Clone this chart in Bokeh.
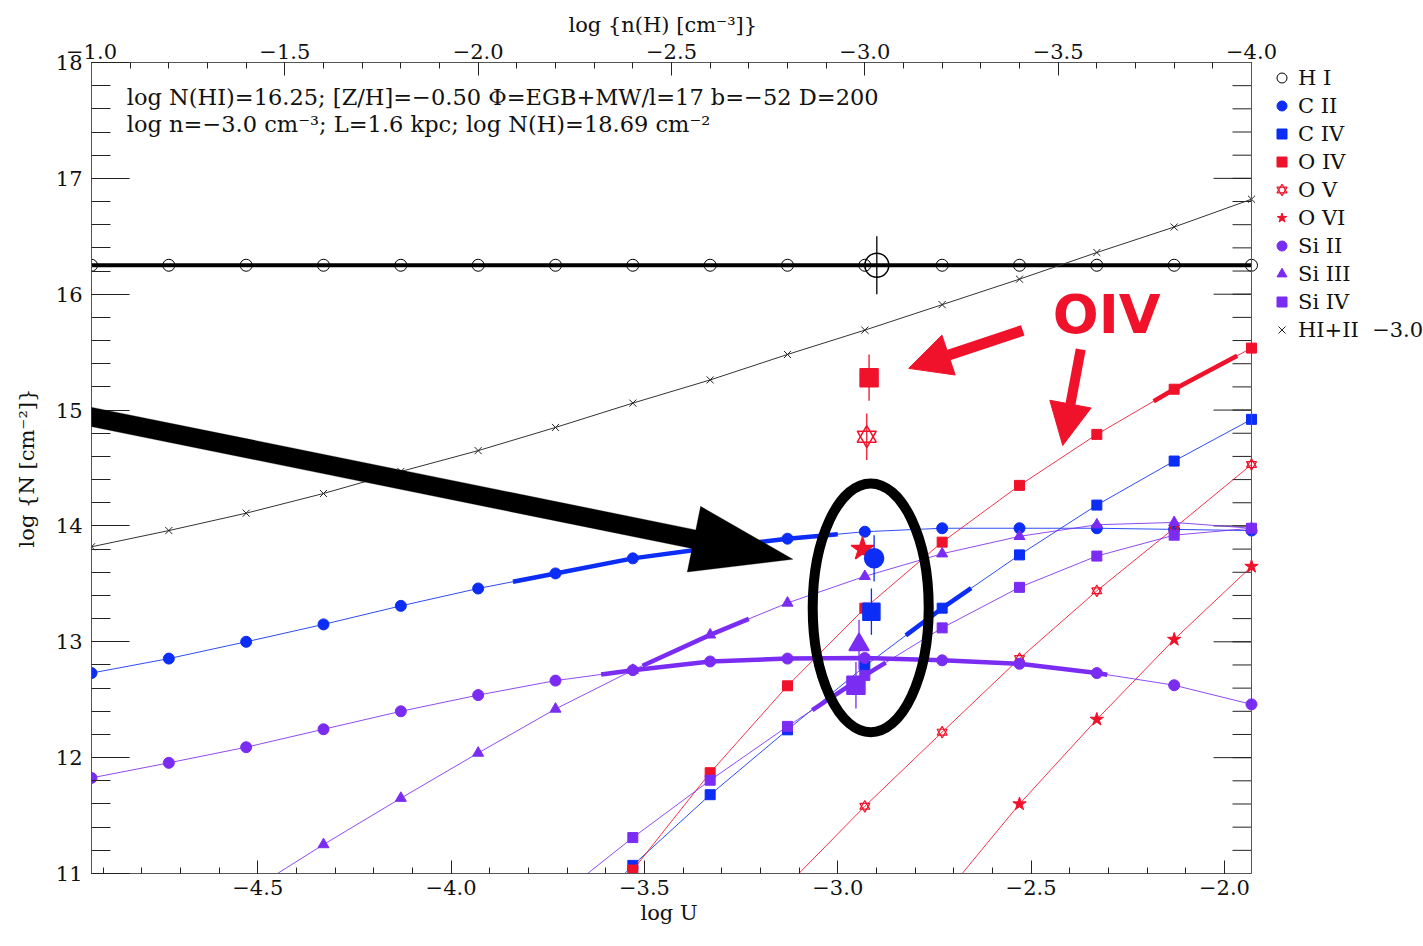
import math
import numpy as np
from bokeh.plotting import figure
from bokeh.models import (Range1d, LinearAxis, FixedTicker, CustomJSTickFormatter, Legend,
                          LegendItem, Label, Arrow, NormalHead, PolyAnnotation, Span, Title)
from bokeh.embed import file_html
from bokeh.resources import INLINE

# ---------------- data ----------------
LOG_U = [-4.93, -4.73, -4.53, -4.33, -4.13, -3.93, -3.73, -3.53,
         -3.33, -3.13, -2.93, -2.73, -2.53, -2.33, -2.13, -1.93]
N_HI = [16.25, 16.25, 16.25, 16.25, 16.25, 16.25, 16.25, 16.25,
        16.25, 16.25, 16.25, 16.25, 16.25, 16.25, 16.25, 16.25]
N_HI_II = [13.82, 13.96, 14.11, 14.28, 14.47, 14.65, 14.85, 15.06,
           15.26, 15.48, 15.69, 15.91, 16.13, 16.36, 16.58, 16.82]
N_CII = [12.73, 12.855, 13.00, 13.15, 13.31, 13.46, 13.59, 13.72,
         13.81, 13.89, 13.95, 13.98, 13.98, 13.98, 13.97, 13.96]
N_CIV = [None, None, None, None, None, None, 10.40, 11.07,
         11.68, 12.24, 12.79, 13.29, 13.75, 14.18, 14.56, 14.92]
N_OIV = [None, None, None, None, None, None, 10.20, 11.03,
         11.87, 12.62, 13.29, 13.86, 14.35, 14.79, 15.18, 15.535]
N_OV = [None, None, None, None, None, None, None, None,
        None, 10.90, 11.58, 12.22, 12.855, 13.44, 13.98, 14.53]
N_OVI = [None, None, None, None, None, None, None, None,
         None, None, None, 10.79, 11.60, 12.33, 13.02, 13.65]
N_SIII = [11.825, 11.955, 12.09, 12.245, 12.40, 12.54, 12.665, 12.755,
          12.83, 12.855, 12.86, 12.84, 12.81, 12.73, 12.625, 12.46]
N_SIIII = [None, None, 10.83, 11.25, 11.65, 12.04, 12.42, 12.755,
           13.06, 13.335, 13.565, 13.76, 13.91, 14.01, 14.03, 13.98]
N_SIIV = [None, None, None, None, None, None, 10.78, 11.31,
          11.805, 12.27, 12.71, 13.12, 13.47, 13.74, 13.92, 13.98]

# log U ranges where the model is drawn thick
THICK_CII = [-3.84, -3.00]
THICK_CIV = [-2.824, -2.655]
THICK_OIV = [-2.183, -1.967]
THICK_SIII = [-3.612, -2.303]
THICK_SIIII = [-3.505, -3.23]
THICK_SIIV = [-3.066, -2.876]

# observed columns
OBS_ION = ["H I", "O IV", "O V", "O VI", "C II", "C IV", "Si III", "Si IV"]
OBS_U = [-2.899, -2.919, -2.925, -2.936, -2.906, -2.913, -2.945, -2.953]
OBS_N = [16.25, 15.28, 14.77, 13.80, 13.72, 13.26, 12.975, 12.625]
OBS_ERR = [0.25, 0.20, 0.20, 0.0, 0.20, 0.20, 0.215, 0.20]

X_MAJOR = [-4.5, -4.0, -3.5, -3.0, -2.5, -2.0]
TOP_MAJOR = [-1.0, -1.5, -2.0, -2.5, -3.0, -3.5, -4.0]
Y_MAJOR = [11, 12, 13, 14, 15, 16, 17, 18]

INFO_1 = "log N(HI)=16.25; [Z/H]=\u22120.50 \u03a6=EGB+MW/l=17 b=\u221252 D=200"
INFO_2 = "log n=\u22123.0 cm\u207b\u00b3; L=1.6 kpc; log N(H)=18.69 cm\u207b\u00b2"
X_LABEL = "log U"
TOP_LABEL = "log {n(H) [cm\u207b\u00b3]}"
Y_LABEL = "log {N [cm\u207b\u00b2]}"

# ---------------- styling / geometry ----------------
BLUE = "#0b2df5"
RED = "#f0122b"
PURPLE = "#7b2cf2"
FONT = "DejaVu Serif"

X0, XR = -4.93, -1.93          # plotted log U box
Y0, Y1 = 11.0, 18.0
N0, NR = -1.0, -4.0            # top axis log n(H) box
BOX_W, BOX_H = 1160, 811       # pixel size of the axes box
LEFT, TOP, BOTTOM = 91, 62, 73
W, H = 1423, 946
FRAME_W = W - LEFT             # frame extends to the right edge (room for the key)
KX = BOX_W / (XR - X0)
KY = BOX_H / (Y1 - Y0)
X1 = X0 + FRAME_W / KX
N1 = N0 - FRAME_W / KX


def arr(v):
    return np.array([np.nan if a is None else a for a in v], dtype=float)


def thick(vals, rng):
    x = np.array(LOG_U)
    y = arr(vals)
    m = ~np.isnan(y)
    lo, hi = rng
    xs = [lo] + [a for a in x[m] if lo < a < hi] + [hi]
    ys = np.interp(xs, x[m], y[m])
    return xs, list(ys)


p = figure(width=W, height=H, x_range=Range1d(X0, X1), y_range=Range1d(Y0, Y1),
           output_backend="svg", toolbar_location=None,
           min_border_left=LEFT, min_border_right=0, min_border_top=TOP, min_border_bottom=BOTTOM)
p.title.visible = False
p.extra_x_ranges = {"nh": Range1d(N0, N1)}
p.xgrid.visible = False
p.ygrid.visible = False
p.outline_line_color = None
p.background_fill_color = "white"
p.border_fill_color = "white"

x_minor = [round(v, 1) for v in np.arange(-4.9, -1.94, 0.1)]
top_minor = [round(v, 1) for v in np.arange(-1.0, -4.05, -0.1)]
y_minor = [round(v, 1) for v in np.arange(11.0, 18.01, 0.2)]

fmt1 = CustomJSTickFormatter(code="return tick.toFixed(1).replace('-', '\u2212');")
fmt0 = CustomJSTickFormatter(code="return tick.toFixed(0);")

AX_COLOR = "#555555"
TK_COLOR = "#222222"
TXT = "#111111"


def style_axis(ax, major_in, minor_in):
    ax.axis_line_color = AX_COLOR
    ax.major_tick_line_color = TK_COLOR
    ax.minor_tick_line_color = TK_COLOR
    ax.major_tick_in = major_in
    ax.major_tick_out = 0
    ax.minor_tick_in = minor_in
    ax.minor_tick_out = 0
    ax.major_label_text_font = FONT
    ax.axis_label_text_font = FONT
    ax.axis_label_text_font_style = "normal"
    ax.major_label_text_color = TXT
    ax.axis_label_text_color = TXT


xb = p.xaxis[0]
xb.ticker = FixedTicker(ticks=X_MAJOR, minor_ticks=x_minor)
xb.formatter = fmt1
xb.bounds = (X0, XR)
style_axis(xb, 13, 6)
xb.major_label_text_font_size = "21px"
xb.major_label_standoff = 6

yl = p.yaxis[0]
yl.ticker = FixedTicker(ticks=Y_MAJOR, minor_ticks=y_minor)
yl.formatter = fmt0
style_axis(yl, 38, 19)
yl.major_label_text_font_size = "21px"
yl.major_label_standoff = 9
yl.axis_label = Y_LABEL
yl.axis_label_text_font_size = "21px"
yl.axis_label_standoff = 14

xt = LinearAxis(x_range_name="nh", ticker=FixedTicker(ticks=TOP_MAJOR, minor_ticks=top_minor),
                formatter=fmt1, bounds=(NR, N0))
style_axis(xt, 13, 6)
xt.major_label_text_font_size = "21px"
xt.major_label_standoff = 4
p.add_layout(xt, "above")

# axis titles centred on the box (not on the wider frame)
p.add_layout(Title(text=X_LABEL, align="left", offset=549, text_font=FONT, text_font_size="21px",
                   text_font_style="normal", text_color=TXT, standoff=3), "below")
p.add_layout(Title(text=TOP_LABEL, align="left", offset=477, text_font=FONT, text_font_size="21px",
                   text_font_style="normal", text_color=TXT, standoff=7), "above")

# right-hand axis of the box: a line with inward ticks
p.add_layout(Span(location=XR, dimension="height", line_color=AX_COLOR, line_width=1))
maj_len, min_len = 38 / KX, 19 / KX
p.segment(x0=[XR] * len(Y_MAJOR), y0=Y_MAJOR, x1=[XR - maj_len] * len(Y_MAJOR), y1=Y_MAJOR,
          line_color=TK_COLOR, line_width=1)
p.segment(x0=[XR] * len(y_minor), y0=y_minor, x1=[XR - min_len] * len(y_minor), y1=y_minor,
          line_color=TK_COLOR, line_width=1)

U = LOG_U

# ---------------- model curves ----------------
legend_items = []

p.line(U, N_HI, line_color="black", line_width=4)
r = p.scatter(U, N_HI, marker="circle", size=12, fill_color=None, line_color="black", line_width=1)
legend_items.append(("H I", [r]))


def series(vals, color, marker, size, rng, label, fill=True, lw=1.0):
    y = arr(vals)
    p.line(U, y, line_color=color, line_width=lw, line_alpha=0.85)
    if rng is not None:
        tx, ty = thick(vals, rng)
        p.line(tx, ty, line_color=color, line_width=4.5)
    rs = []
    if marker == "hexagram":
        for mk in ["triangle", "inverted_triangle"]:
            rs.append(p.scatter(U, y, marker=mk, size=size, fill_color=None,
                                line_color=color, line_width=1.2))
    else:
        rs.append(p.scatter(U, y, marker=marker, size=size,
                            fill_color=color if fill else None, line_color=color, line_width=1))
    legend_items.append((label, rs))


series(N_CII, BLUE, "circle", 11, THICK_CII, "C II")
series(N_CIV, BLUE, "square", 10, THICK_CIV, "C IV")
series(N_OIV, RED, "square", 10, THICK_OIV, "O IV")
series(N_OV, RED, "hexagram", 10, None, "O V")
series(N_OVI, RED, "star", 14, None, "O VI")
series(N_SIII, PURPLE, "circle", 11, THICK_SIII, "Si II")
series(N_SIIII, PURPLE, "triangle", 11, THICK_SIIII, "Si III")
series(N_SIIV, PURPLE, "square", 10, THICK_SIIV, "Si IV")

p.line(U, N_HI_II, line_color="#333333", line_width=1)
r = p.scatter(U, N_HI_II, marker="x", size=10, line_color="#222222", line_width=1)
legend_items.append(("HI+II  \u22123.0", [r]))

# ---------------- observations ----------------
OBS_STYLE = {
    "H I": ("black", "circle", 24, False),
    "O IV": (RED, "square", 18, True),
    "O V": (RED, "hexagram", 19, False),
    "O VI": (RED, "star", 24, True),
    "C II": (BLUE, "circle", 19, True),
    "C IV": (BLUE, "square", 17, True),
    "Si III": (PURPLE, "triangle", 20, True),
    "Si IV": (PURPLE, "square", 18, True),
}
for ion, u, n, e in zip(OBS_ION, OBS_U, OBS_N, OBS_ERR):
    color, mk, sz, fill = OBS_STYLE[ion]
    if e > 0:
        p.segment(x0=[u], y0=[n - e], x1=[u], y1=[n + e], line_color=color, line_width=1.3)
    if mk == "hexagram":
        for m2 in ["triangle", "inverted_triangle"]:
            p.scatter([u], [n], marker=m2, size=sz, fill_color=None, line_color=color, line_width=1.5)
    else:
        p.scatter([u], [n], marker=mk, size=sz, fill_color=color if fill else None,
                  line_color=color, line_width=1.5)

# ---------------- annotations ----------------
ELL_X, ELL_Y, ELL_W, ELL_H = -2.9148, 13.293, 0.300, 2.148
p.ellipse(x=[ELL_X], y=[ELL_Y], width=[ELL_W], height=[ELL_H], fill_color=None,
          line_color="black", line_width=10)

# big black arrow (data coordinates of tail and tip)
TAIL = (-5.165, 15.10)
TIP = (-3.116, 13.712)
tx, ty = TAIL[0] * KX, TAIL[1] * KY
hx, hy = TIP[0] * KX, TIP[1] * KY
dx, dy = hx - tx, hy - ty
L = math.hypot(dx, dy)
ux, uy = dx / L, dy / L
nx, ny = -uy, ux
w, HL, HW = 9.5, 101.0, 33.5
bx, by = hx - HL * ux, hy - HL * uy
pts = [(tx + w * nx, ty + w * ny), (bx + w * nx, by + w * ny), (bx + HW * nx, by + HW * ny),
       (hx, hy), (bx - HW * nx, by - HW * ny), (bx - w * nx, by - w * ny), (tx - w * nx, ty - w * ny)]
p.add_layout(PolyAnnotation(xs=[a / KX for a, b in pts], ys=[b / KY for a, b in pts],
                            fill_color="black", fill_alpha=1.0, line_color="black", line_width=1))

for (xs0, ys0, xe, ye, lw) in [(-2.5217, 15.688, -2.8165, 15.360, 11),
                               (-2.3717, 15.524, -2.4182, 14.695, 10)]:
    p.add_layout(Arrow(x_start=xs0, y_start=ys0, x_end=xe, y_end=ye, line_color=RED, line_width=lw,
                       end=NormalHead(size=42, fill_color=RED, line_color=RED, line_width=1)))

p.add_layout(Label(x=-2.444, y=15.825, text="OIV", text_color=RED, text_font="DejaVu Sans",
                   text_font_style="bold", text_font_size="54px", text_align="left",
                   text_baseline="middle"))

p.add_layout(Label(x=-4.8387, y=17.706, text=INFO_1, text_font=FONT, text_font_size="22.5px",
                   text_color=TXT, text_baseline="middle"))
p.add_layout(Label(x=-4.8387, y=17.473, text=INFO_2, text_font=FONT, text_font_size="22.5px",
                   text_color=TXT, text_baseline="middle"))

# ---------------- legend (key to the right of the box) ----------------
legend = Legend(items=[LegendItem(label=lab, renderers=rs) for lab, rs in legend_items],
                location=(1178, 530), orientation="vertical", glyph_width=25, glyph_height=27,
                label_height=27, spacing=1, padding=0, margin=0, label_standoff=4,
                border_line_alpha=0, background_fill_alpha=0,
                label_text_font=FONT, label_text_font_size="21px", label_text_color=TXT)
p.add_layout(legend, "center")

open("out.html", "w").write(file_html(p, INLINE))
